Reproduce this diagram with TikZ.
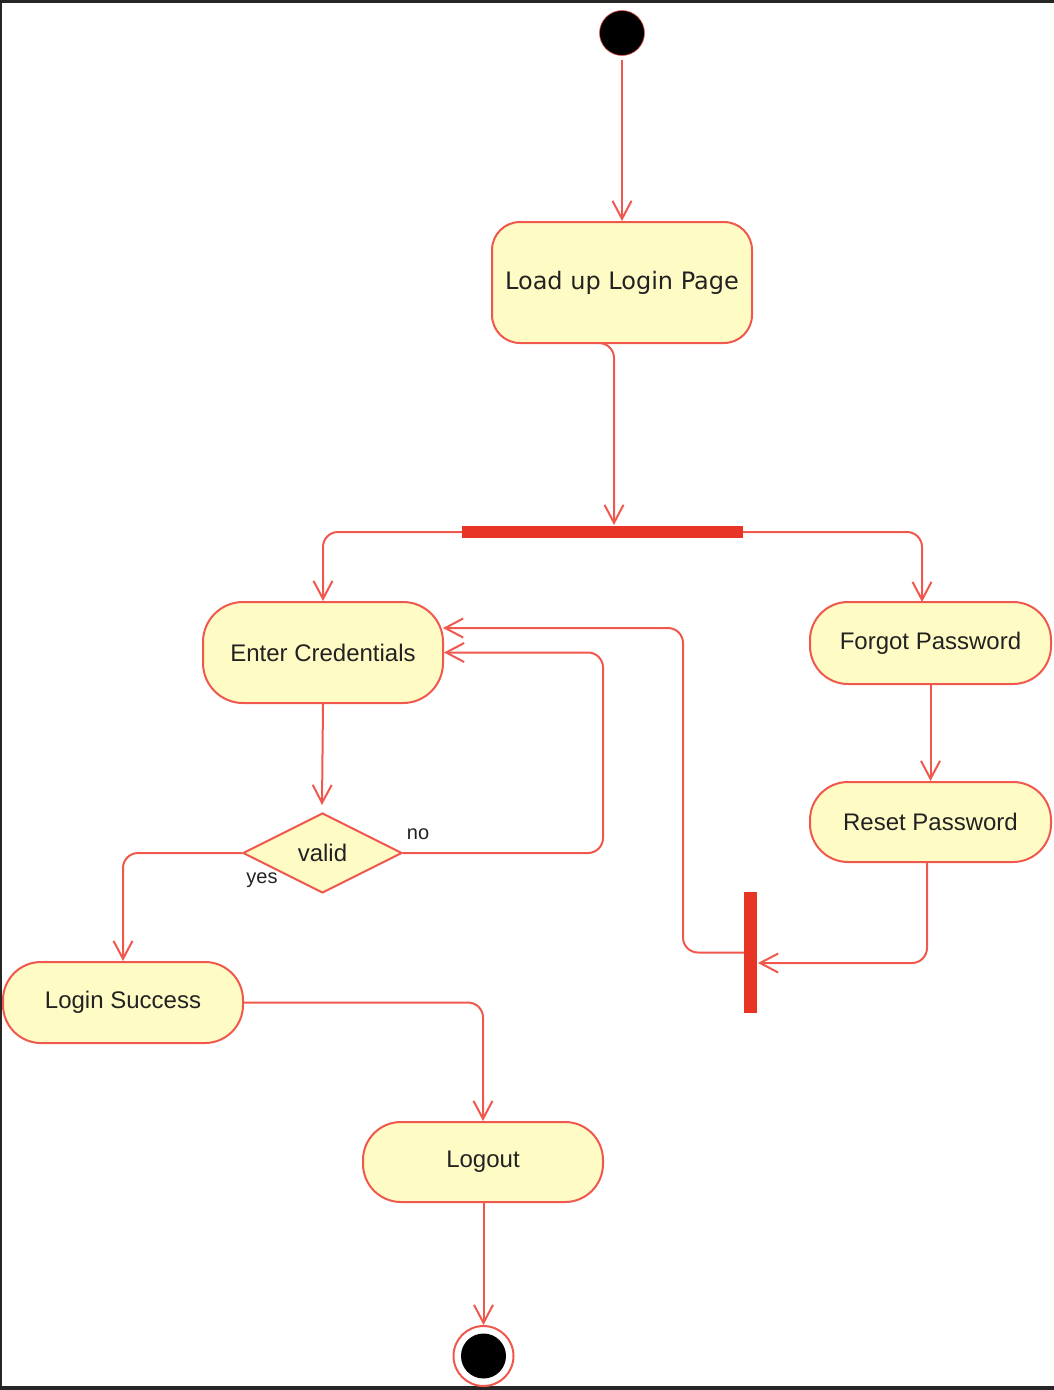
\documentclass[tikz,border=0pt]{standalone}
\usepackage{fontspec}
\setmainfont{Liberation Sans}
\newfontfamily\dejavu{DejaVu Sans}
\usetikzlibrary{arrows.meta,shapes.geometric}
\definecolor{umlred}{RGB}{240,88,78}
\definecolor{barred}{RGB}{232,52,36}
\definecolor{umlfill}{RGB}{255,251,197}
\definecolor{umltext}{RGB}{34,34,34}
\definecolor{framegray}{RGB}{38,38,38}
\tikzset{
  act/.style={draw=umlred, line width=2pt, fill=umlfill, text=umltext, inner sep=0pt,
    font=\fontsize{24}{28}\selectfont},
  barnode/.style={fill=barred, draw=none, inner sep=0pt},
  flow/.style={draw=umlred, line width=2pt, rounded corners=15pt,
    -{Straight Barb[length=18pt,width=19pt,line width=2pt]}},
  guard/.style={text=umltext, font=\fontsize{20}{24}\selectfont, inner sep=0pt},
}
\begin{document}
\begin{tikzpicture}[x=1pt,y=-1pt]
\useasboundingbox (0,0) rectangle (1054,1390);
% frame
\fill[framegray] (0,0) rectangle (1054,3);
\fill[framegray] (0,0) rectangle (2,1390);
\fill[framegray] (0,1386) rectangle (1054,1390);

% nodes
\node[circle, fill=black, draw=umlred, line width=0.6pt, minimum size=45pt, inner sep=0pt] (start) at (622,33) {};
\node[act, rounded corners=28pt, minimum width=260pt, minimum height=121pt, font=\dejavu\fontsize{24}{28}\selectfont] (load) at (622,282.5) {Load up Login Page};
\node[barnode, minimum width=281pt, minimum height=12pt] (fork) at (602.5,532) {};
\node[act, rounded corners=40pt, minimum width=240pt, minimum height=101pt] (enter) at (323,652.5) {Enter Credentials};
\node[act, rounded corners=38pt, minimum width=241pt, minimum height=82pt] (forgot) at (930.5,643) {Forgot Password};
\node[act, rounded corners=38pt, minimum width=241pt, minimum height=80pt] (reset) at (930.5,822) {Reset Password};
\node[act, diamond, aspect=2, minimum width=159pt, minimum height=80pt] (valid) at (322.5,853) {valid};
\node[guard] (no) at (418,834) {no};
\node[guard] (yes) at (262,880) {yes};
\node[act, rounded corners=38pt, minimum width=240pt, minimum height=81pt] (login) at (123,1002.5) {Login Success};
\node[barnode, minimum width=13pt, minimum height=121pt] (join) at (750.5,952.5) {};
\node[act, rounded corners=38pt, minimum width=240pt, minimum height=80pt] (logout) at (483,1162) {Logout};
\node[circle, draw=umlred, line width=2pt, fill=white, minimum size=60pt, inner sep=0pt] (endo) at (483.5,1356) {};
\node[circle, fill=black, minimum size=45pt, inner sep=0pt] (endi) at (endo.center) {};

% helper coordinates
\coordinate (loadout) at (603,343);
\coordinate (forkin) at (614,525);
\coordinate (forgotin) at (922,602);
\coordinate (validin) at (322,805);
\coordinate (nobend) at (603,853);
\coordinate (resetout) at (927,863);
\coordinate (joinin) at (758,963);
\coordinate (joinbend) at (683,628);
\coordinate (enterin) at (443,628);

% connectors
\draw[flow] ([yshift=-4pt]start.south) -- (load.north);
\draw[flow] (loadout) -| (forkin);
\draw[flow] (fork.west) -| (enter.north);
\draw[flow] (fork.east) -| (forgotin);
\draw[flow] (enter.south) -- (validin);
\draw[flow] (forgot.south) -- (reset.north);
\draw[flow] (valid.west) -| (login.north);
\draw[flow] (valid.east) -- (nobend) |- (enter.east);
\draw[flow] (resetout) |- (joinin);
\draw[flow] (join.west) -| (joinbend) -- (enterin);
\draw[flow] (login.east) -| (logout.north);
\draw[flow] (logout.south -| endo.north) -- (endo.north);
\end{tikzpicture}
\end{document}
